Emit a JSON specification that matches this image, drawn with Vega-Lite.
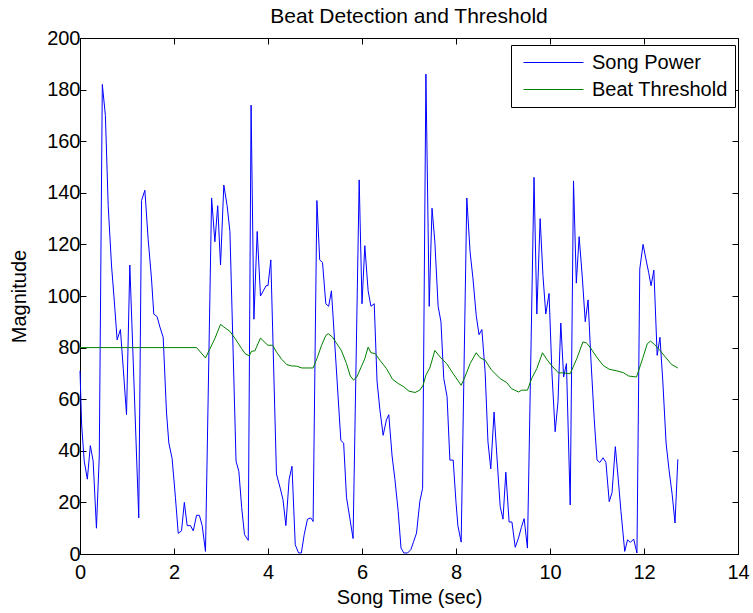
{
  "$schema": "https://vega.github.io/schema/vega-lite/v6.json",
  "width": 658,
  "height": 516,
  "autosize": "none",
  "padding": {"left": 80, "top": 38, "right": 15, "bottom": 59},
  "background": "white",
  "title": {"text": "Beat Detection and Threshold", "font": "Liberation Sans", "fontSize": 21, "fontWeight": "normal", "color": "black", "offset": 1, "anchor": "middle"},
  "datasets": {
    "power": [
      {"t":0.00,"v":71},{"t":0.035,"v":50},{"t":0.09,"v":36},{"t":0.156,"v":29},{"t":0.22,"v":42},{"t":0.28,"v":36},{"t":0.35,"v":10},{"t":0.41,"v":38},{"t":0.475,"v":182},{"t":0.54,"v":170},{"t":0.60,"v":135},{"t":0.67,"v":112},{"t":0.73,"v":98},{"t":0.79,"v":83},{"t":0.86,"v":87},{"t":0.92,"v":72},{"t":0.99,"v":54},{"t":1.06,"v":112},{"t":1.25,"v":14},{"t":1.31,"v":137},{"t":1.38,"v":141},{"t":1.45,"v":122},{"t":1.52,"v":107},{"t":1.57,"v":93},{"t":1.64,"v":92},{"t":1.70,"v":88},{"t":1.77,"v":84},{"t":1.84,"v":55},{"t":1.89,"v":43},{"t":1.96,"v":37},{"t":2.03,"v":22},{"t":2.09,"v":8},{"t":2.16,"v":9},{"t":2.22,"v":20},{"t":2.28,"v":11},{"t":2.35,"v":11},{"t":2.41,"v":9},{"t":2.48,"v":15},{"t":2.54,"v":15},{"t":2.60,"v":11},{"t":2.67,"v":1},{"t":2.80,"v":138},{"t":2.87,"v":121},{"t":2.93,"v":135},{"t":2.99,"v":112},{"t":3.06,"v":143},{"t":3.13,"v":135},{"t":3.19,"v":125},{"t":3.32,"v":36},{"t":3.38,"v":32},{"t":3.44,"v":18},{"t":3.50,"v":7.5},{"t":3.58,"v":5.3},{"t":3.64,"v":174},{"t":3.70,"v":91},{"t":3.77,"v":125},{"t":3.84,"v":100},{"t":3.90,"v":102},{"t":3.96,"v":104},{"t":4.00,"v":104},{"t":4.06,"v":114},{"t":4.18,"v":31},{"t":4.26,"v":25.5},{"t":4.32,"v":21},{"t":4.38,"v":11},{"t":4.45,"v":29},{"t":4.51,"v":34},{"t":4.58,"v":3.6},{"t":4.65,"v":0.4},{"t":4.71,"v":0.4},{"t":4.77,"v":7.5},{"t":4.84,"v":13.5},{"t":4.91,"v":14},{"t":4.96,"v":12.6},{"t":5.04,"v":137},{"t":5.10,"v":114},{"t":5.16,"v":113},{"t":5.23,"v":97},{"t":5.29,"v":96},{"t":5.35,"v":102},{"t":5.55,"v":44},{"t":5.61,"v":43},{"t":5.67,"v":22},{"t":5.74,"v":14},{"t":5.81,"v":6},{"t":5.94,"v":145},{"t":6.00,"v":97},{"t":6.06,"v":119.5},{"t":6.13,"v":102},{"t":6.19,"v":96},{"t":6.26,"v":97},{"t":6.32,"v":67},{"t":6.38,"v":56},{"t":6.45,"v":46},{"t":6.52,"v":52},{"t":6.57,"v":54},{"t":6.64,"v":38},{"t":6.70,"v":29},{"t":6.77,"v":16.5},{"t":6.83,"v":2.3},{"t":6.89,"v":0.4},{"t":6.97,"v":0.4},{"t":7.04,"v":1.7},{"t":7.10,"v":4.9},{"t":7.16,"v":8.1},{"t":7.23,"v":20.3},{"t":7.29,"v":25.5},{"t":7.36,"v":186},{"t":7.43,"v":96},{"t":7.49,"v":134},{"t":7.55,"v":121},{"t":7.62,"v":96},{"t":7.68,"v":90},{"t":7.74,"v":68},{"t":7.81,"v":61},{"t":7.87,"v":36.4},{"t":7.94,"v":36.4},{"t":8.00,"v":20},{"t":8.04,"v":11},{"t":8.11,"v":4.6},{"t":8.23,"v":138},{"t":8.30,"v":117},{"t":8.36,"v":107},{"t":8.43,"v":92.5},{"t":8.49,"v":85},{"t":8.55,"v":87},{"t":8.62,"v":70.6},{"t":8.68,"v":43.5},{"t":8.74,"v":33},{"t":8.81,"v":55},{"t":8.87,"v":38},{"t":8.94,"v":18.4},{"t":9.00,"v":13.5},{"t":9.06,"v":31.7},{"t":9.13,"v":12.4},{"t":9.19,"v":12.4},{"t":9.26,"v":2.6},{"t":9.33,"v":6.2},{"t":9.39,"v":10.3},{"t":9.45,"v":13.7},{"t":9.52,"v":2.3},{"t":9.66,"v":146},{"t":9.72,"v":93},{"t":9.79,"v":130},{"t":9.85,"v":108},{"t":9.91,"v":93},{"t":9.98,"v":101},{"t":10.04,"v":70.6},{"t":10.11,"v":47.4},{"t":10.17,"v":59},{"t":10.23,"v":89.5},{"t":10.29,"v":68.6},{"t":10.35,"v":73.8},{"t":10.43,"v":19},{"t":10.50,"v":144.6},{"t":10.56,"v":105},{"t":10.62,"v":123},{"t":10.69,"v":106.6},{"t":10.75,"v":90},{"t":10.81,"v":98.5},{"t":10.87,"v":75.7},{"t":10.94,"v":52.5},{"t":11.00,"v":36.4},{"t":11.06,"v":35.5},{"t":11.13,"v":37.3},{"t":11.19,"v":35.5},{"t":11.26,"v":20.3},{"t":11.32,"v":23.8},{"t":11.39,"v":41.6},{"t":11.45,"v":29.4},{"t":11.51,"v":16.5},{"t":11.59,"v":1},{"t":11.65,"v":5.5},{"t":11.71,"v":4.5},{"t":11.78,"v":5.8},{"t":11.85,"v":0.4},{"t":11.91,"v":110.5},{"t":11.98,"v":120},{"t":12.04,"v":114.4},{"t":12.10,"v":109},{"t":12.15,"v":104},{"t":12.21,"v":110},{"t":12.28,"v":77},{"t":12.34,"v":84},{"t":12.40,"v":67},{"t":12.47,"v":43},{"t":12.53,"v":33},{"t":12.60,"v":23},{"t":12.66,"v":12},{"t":12.72,"v":36.7}
    ],
    "threshold": [
      {"t":0,"v":80},{"t":2.48,"v":80},{"t":2.67,"v":76},{"t":2.87,"v":83.5},{"t":2.99,"v":89},{"t":3.06,"v":88},{"t":3.19,"v":86.3},{"t":3.30,"v":83.5},{"t":3.44,"v":79.6},{"t":3.51,"v":77.7},{"t":3.60,"v":76.8},{"t":3.65,"v":78.6},{"t":3.72,"v":78.7},{"t":3.84,"v":83.7},{"t":3.94,"v":81.9},{"t":4.00,"v":80.9},{"t":4.10,"v":80.9},{"t":4.18,"v":78.3},{"t":4.29,"v":75.5},{"t":4.40,"v":73.4},{"t":4.50,"v":72.9},{"t":4.61,"v":72.8},{"t":4.72,"v":72.1},{"t":4.96,"v":72.1},{"t":5.04,"v":75.7},{"t":5.14,"v":80.9},{"t":5.23,"v":84.7},{"t":5.28,"v":85.4},{"t":5.37,"v":84.1},{"t":5.45,"v":81.9},{"t":5.56,"v":78.9},{"t":5.67,"v":73.8},{"t":5.75,"v":69},{"t":5.82,"v":67.4},{"t":5.89,"v":68.6},{"t":5.99,"v":72.8},{"t":6.06,"v":75.7},{"t":6.13,"v":80.2},{"t":6.19,"v":78},{"t":6.28,"v":77.7},{"t":6.38,"v":75.1},{"t":6.52,"v":71.9},{"t":6.65,"v":67.7},{"t":6.77,"v":66.1},{"t":6.89,"v":64.8},{"t":7.00,"v":63.1},{"t":7.13,"v":62.6},{"t":7.23,"v":63.5},{"t":7.30,"v":65.4},{"t":7.36,"v":69.3},{"t":7.45,"v":72.5},{"t":7.55,"v":78.9},{"t":7.66,"v":76.4},{"t":7.80,"v":73.8},{"t":7.94,"v":69.9},{"t":8.11,"v":65.4},{"t":8.19,"v":68.6},{"t":8.30,"v":73.8},{"t":8.43,"v":78},{"t":8.51,"v":76.1},{"t":8.62,"v":75.1},{"t":8.76,"v":71.2},{"t":8.94,"v":68},{"t":9.08,"v":66.4},{"t":9.18,"v":64.1},{"t":9.33,"v":62.8},{"t":9.40,"v":63.5},{"t":9.52,"v":63.5},{"t":9.61,"v":68},{"t":9.72,"v":71.9},{"t":9.84,"v":78},{"t":9.93,"v":75.5},{"t":10.04,"v":72.9},{"t":10.18,"v":70.2},{"t":10.28,"v":70.2},{"t":10.43,"v":69.9},{"t":10.57,"v":75.7},{"t":10.70,"v":82.2},{"t":10.77,"v":81.9},{"t":10.85,"v":80.2},{"t":10.99,"v":76.4},{"t":11.13,"v":73.1},{"t":11.26,"v":71.6},{"t":11.42,"v":71},{"t":11.56,"v":70.3},{"t":11.67,"v":69},{"t":11.84,"v":68.6},{"t":11.97,"v":75.7},{"t":12.07,"v":81.5},{"t":12.14,"v":82.5},{"t":12.23,"v":81.1},{"t":12.34,"v":78.9},{"t":12.47,"v":76},{"t":12.59,"v":73.4},{"t":12.72,"v":72.1}
    ]
  },
  "layer": [
    {
      "data": {"name": "power"},
      "transform": [{"calculate": "'Song Power'", "as": "s"}],
      "mark": {"type": "line", "strokeWidth": 1},
      "encoding": {
        "x": {"field": "t", "type": "quantitative", "scale": {"domain": [0, 14], "nice": false, "zero": false}, "axis": {"orient": "bottom", "values": [0,2,4,6,8,10,12,14], "title": "Song Time (sec)", "labelPadding": 14, "titlePadding": 5}},
        "y": {"field": "v", "type": "quantitative", "scale": {"domain": [0, 200], "nice": false}, "axis": {"orient": "left", "values": [0,20,40,60,80,100,120,140,160,180,200], "title": "Magnitude", "labelPadding": 6, "titlePadding": 17}},
        "color": {"field": "s", "type": "nominal", "scale": {"domain": ["Song Power", "Beat Threshold"], "range": ["#0000ff", "#008000"]},
          "legend": {"title": null, "orient": "none", "legendX": 431, "legendY": 7, "symbolType": "M-0.5,0H5.5", "symbolSize": 400, "symbolStrokeWidth": 1, "labelFontSize": 20, "labelFont": "Liberation Sans", "labelColor": "black", "labelOffset": 53, "padding": 7, "rowPadding": 6, "strokeColor": "black", "fillColor": "white", "cornerRadius": 0}}
      }
    },
    {
      "data": {"name": "threshold"},
      "transform": [{"calculate": "'Beat Threshold'", "as": "s"}],
      "mark": {"type": "line", "strokeWidth": 1},
      "encoding": {
        "x": {"field": "t", "type": "quantitative", "axis": {"orient": "top", "values": [0,2,4,6,8,10,12,14], "labels": false, "title": null, "domain": false}},
        "y": {"field": "v", "type": "quantitative", "axis": {"orient": "right", "values": [0,20,40,60,80,100,120,140,160,180,200], "labels": false, "title": null, "domain": false}},
        "color": {"field": "s", "type": "nominal"}
      }
    }
  ],
  "resolve": {"axis": {"x": "independent", "y": "independent"}},
  "config": {
    "view": {"stroke": "black", "strokeWidth": 1},
    "axis": {"grid": false, "tickSize": -6, "tickColor": "black", "domainColor": "black", "labelFont": "Liberation Sans", "labelFontSize": 20, "labelColor": "black", "titleFont": "Liberation Sans", "titleFontSize": 20, "titleFontWeight": "normal", "titleColor": "black", "labelFlush": false, "labelOverlap": false}
  }
}
